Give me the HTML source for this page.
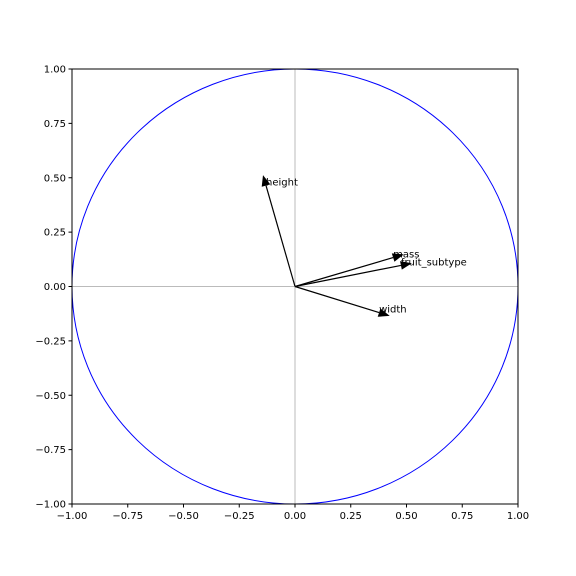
<!DOCTYPE html>
<html><head><meta charset="utf-8"><style>
body{margin:0;background:#fff;}
svg{display:block;font-family:"DejaVu Sans","Liberation Sans",sans-serif;}
</style></head><body>
<svg id="chart" width="576" height="576" viewBox="0 0 576 576" xmlns="http://www.w3.org/2000/svg"></svg>
<script>
const names = ["height", "mass", "fruit_subtype", "width"];
const pc1 = [-0.13, 0.44, 0.475, 0.377];
const pc2 = [0.464, 0.133, 0.097, -0.12];
const ticks = [-1, -0.75, -0.5, -0.25, 0, 0.25, 0.5, 0.75, 1];
const tickLabels = ["\u22121.00","\u22120.75","\u22120.50","\u22120.25","0.00","0.25","0.50","0.75","1.00"];

const L=72,R=518,T=69,B=504;
const sx=v=>L+(v+1)/2*(R-L);
const sy=v=>B-(v+1)/2*(B-T);
const svg=document.getElementById('chart');
const NS='http://www.w3.org/2000/svg';
function mk(tag,attrs,parent){const e=document.createElementNS(NS,tag);for(const k in attrs)e.setAttribute(k,attrs[k]);(parent||svg).appendChild(e);return e;}

let zl=mk('line',{x1:sx(-1),x2:sx(1),y1:sy(0),y2:sy(0),stroke:'#bbb','stroke-width':1});


let zv=mk('line',{x1:sx(0),x2:sx(0),y1:sy(-1),y2:sy(1),stroke:'#bbb','stroke-width':1});



let c=mk('ellipse',{cx:sx(0),cy:sy(0),rx:(R-L)/2,ry:(B-T)/2,fill:'none',stroke:'blue','stroke-width':1});



const hl=0.05, hw=0.02;
for(let i=0;i<names.length;i++){
  const x=pc1[i],y=pc2[i];
  const len=Math.hypot(x,y);const ux=x/len,uy=y/len;
  const tx=x+ux*hl,ty=y+uy*hl;
  const px=-uy,py=ux;
  const g=mk('g',{});
  
  
  mk('line',{x1:sx(0),y1:sy(0),x2:sx(x),y2:sy(y),stroke:'#000','stroke-width':1.2},g);
  const pts=[[tx,ty],[x+px*hw,y+py*hw],[x-px*hw,y-py*hw]].map(p=>sx(p[0])+','+sy(p[1])).join(' ');
  mk('polygon',{points:pts,fill:'#000'},g);
  const t=mk('text',{x:sx(x),y:sy(y),'font-size':10,fill:'#000'},g);
  t.textContent=names[i];
  
  
}

let f=mk('rect',{x:L,y:T,width:R-L,height:B-T,fill:'none',stroke:'#000','stroke-width':1});



for(let i=0;i<ticks.length;i++){
  const X=sx(ticks[i]),Y=sy(ticks[i]);
  mk('line',{x1:X,x2:X,y1:B,y2:B+3.5,stroke:'#000'});
  const tx=mk('text',{x:X,y:B+15,'font-size':10,'text-anchor':'middle'});
  tx.textContent=tickLabels[i];
  
  
  mk('line',{x1:L-3.5,x2:L,y1:Y,y2:Y,stroke:'#000'});
  const ty=mk('text',{x:L-6,y:Y+3.5,'font-size':10,'text-anchor':'end'});
  ty.textContent=tickLabels[i];
  
  
}
</script>
</body></html>
